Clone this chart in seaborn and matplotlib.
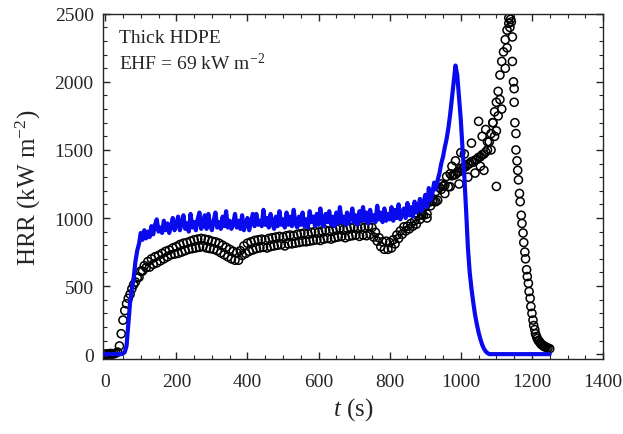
import numpy as np
import pandas as pd
import matplotlib
matplotlib.use("Agg")
import matplotlib.pyplot as plt
from matplotlib.ticker import MultipleLocator
import seaborn as sns

# HRR medido (circulos), amostrado a cada 5 s
t_exp = np.arange(0, 1255, 5)
hrr_exp = [
    0, 2, 0, 5, 0, 3, 8, 15,
    60, 150, 250, 320, 370, 410, 440, 480,
    510, 530, 560, 565, 610, 610, 650, 635,
    680, 640, 700, 660, 715, 670, 725, 685,
    740, 700, 755, 715, 765, 730, 780, 735,
    790, 740, 805, 750, 815, 760, 820, 770,
    830, 775, 840, 780, 845, 785, 850, 790,
    845, 780, 840, 775, 830, 770, 825, 760,
    815, 745, 800, 730, 785, 715, 770, 700,
    755, 690, 745, 690, 760, 725, 795, 740,
    815, 755, 825, 765, 835, 775, 840, 780,
    845, 785, 840, 780, 850, 790, 855, 795,
    860, 800, 865, 805, 860, 795, 870, 810,
    875, 810, 870, 815, 880, 820, 885, 825,
    890, 825, 885, 830, 895, 835, 900, 840,
    895, 835, 905, 845, 910, 850, 905, 845,
    915, 855, 920, 860, 925, 865, 915, 855,
    925, 865, 930, 870, 935, 875, 925, 865,
    935, 875, 930, 870, 940, 880, 930, 860,
    895, 830, 855, 790, 825, 770, 830, 770,
    820, 780, 840, 810, 875, 850, 905, 880,
    935, 905, 940, 920, 960, 940, 980, 955,
    1015, 990, 1025, 1020, 1085, 1030, 1115, 1090,
    1125, 1120, 1195, 1130, 1225, 1210, 1235, 1240,
    1305, 1230, 1325, 1310, 1315, 1320, 1335, 1340,
    1365, 1360, 1375, 1380, 1395, 1400, 1415, 1410,
    1425, 1430, 1445, 1450, 1465, 1470, 1485, 1500,
    1560, 1620, 1700, 1780, 1850, 1930, 2050, 2150,
    2220, 2310, 2380, 2430, 2460, 2330, 1950, 1620,
    1350, 1180, 1020, 890, 750, 620, 520, 410,
    300, 210, 150, 115, 95, 75, 65, 55,
    50, 45, 40,
]

# pontos extras (dispersao perto do pico)
t_extra = [890, 905, 915, 930, 945, 955, 970, 975, 985, 995, 1000, 1010,
           1020, 1030, 1040, 1050, 1055, 1060, 1065, 1070, 1075, 1085, 1090,
           1095, 1100, 1100, 1105, 1110, 1115, 1125, 1130, 1135, 1138, 1142,
           1145, 1148, 1150, 1152, 1155, 1158, 1162, 1167, 1172, 1177, 1182,
           1187, 1192, 1197, 1203, 1208, 1213, 1218, 1223, 1228, 1233, 1238]
hrr_extra = [1050, 1000, 1150, 1120, 1250, 1180, 1230, 1380, 1420, 1250, 1480, 1470,
             1300, 1550, 1330, 1710, 1380, 1600, 1350, 1650, 1560, 1500, 1700,
             1600, 1232, 1640, 1750, 1870, 1800, 2100, 2250, 2470, 2400, 2440,
             2150, 2000, 1850, 1700, 1500, 1420, 1280, 1120, 960, 820, 700,
             570, 460, 350, 250, 180, 130, 100, 85, 70, 60, 55]

# HRR do modelo (linha azul), a cada 5 s
t_mod = np.arange(0, 1255, 5)
hrr_mod = [
    0, 0, 0, 0, 0, 0, 0, 0,
    0, 0, 5, 15, 60, 220, 380, 470,
    560, 680, 760, 810, 890, 840, 910, 850,
    900, 860, 940, 880, 950, 990, 900, 930,
    890, 980, 910, 960, 890, 940, 1000, 910,
    950, 1010, 910, 960, 1020, 920, 960, 900,
    1030, 930, 970, 910, 990, 1040, 920, 960,
    1020, 920, 1030, 950, 910, 980, 1040, 930,
    970, 920, 1010, 940, 1050, 930, 980, 920,
    960, 1030, 930, 980, 920, 1020, 910, 960,
    1000, 910, 970, 1030, 940, 1030, 950, 980,
    940, 1060, 950, 1000, 930, 1030, 960, 920,
    1010, 940, 1050, 950, 990, 930, 1040, 950,
    1010, 940, 1060, 960, 930, 1010, 950, 1040,
    940, 990, 930, 1050, 970, 1010, 940, 1030,
    950, 1070, 960, 940, 1030, 970, 1050, 950,
    1010, 940, 1040, 960, 1080, 970, 1010, 950,
    1040, 960, 1000, 1070, 970, 1020, 950, 1050,
    980, 1080, 980, 1040, 960, 1060, 980, 1020,
    970, 1090, 990, 1040, 970, 1070, 980, 1030,
    990, 1080, 980, 1060, 1000, 1100, 990, 1040,
    1070, 1000, 1110, 1020, 1080, 1010, 1120, 1040,
    1070, 1140, 1050, 1110, 1170, 1080, 1220, 1130,
    1180, 1260, 1210, 1280, 1330, 1400, 1450, 1520,
    1580, 1660, 1760, 1880, 2000, 2120, 2050, 1880,
    1720, 1500, 1300, 1050, 780, 600, 480, 380,
    290, 220, 160, 110, 70, 40, 20, 8,
] + [0] * 35

df_exp = pd.DataFrame({"t": np.concatenate([t_exp, t_extra]),
                       "hrr": list(hrr_exp) + hrr_extra})
df_mod = pd.DataFrame({"t": t_mod, "hrr": hrr_mod})

sns.set_style("ticks")
plt.rcParams["font.family"] = ["Liberation Serif", "DejaVu Serif"]
plt.rcParams["mathtext.fontset"] = "custom"
plt.rcParams["mathtext.rm"] = "Liberation Serif"
plt.rcParams["mathtext.it"] = "Liberation Serif:italic"
plt.rcParams["mathtext.default"] = "regular"

fig = plt.figure(figsize=(6.23, 4.35), dpi=100)
ax = fig.add_axes([0.166, 0.172, 0.802, 0.794])

sns.scatterplot(data=df_exp, x="t", y="hrr", ax=ax, marker="o", s=34,
                facecolor="none", edgecolor="black", linewidth=1.1, zorder=2)
sns.lineplot(data=df_mod, x="t", y="hrr", ax=ax, color="#0a0aee",
             linewidth=3.0, zorder=3)

ax.set_xlim(-5, 1400)
ax.set_ylim(-37, 2500)
ax.xaxis.set_major_locator(MultipleLocator(200))
ax.xaxis.set_minor_locator(MultipleLocator(50))
ax.yaxis.set_major_locator(MultipleLocator(500))
ax.yaxis.set_minor_locator(MultipleLocator(100))
ax.tick_params(which="both", direction="in", top=True, right=True, labelsize=14)
ax.tick_params(which="major", length=5, width=1)
ax.tick_params(which="minor", length=3, width=0.8)
ax.tick_params(axis="x", pad=10)
ax.tick_params(axis="y", pad=7)
for s in ax.spines.values():
    s.set_linewidth(1)

ax.set_xlabel(r"$\mathit{t}$ (s)", fontsize=18, labelpad=4)
ax.set_ylabel(r"HRR (kW m$^{-2}$)", fontsize=18, labelpad=8)

ax.text(0.032, 0.93, "Thick HDPE", transform=ax.transAxes, fontsize=14,
        va="center", ha="left")
ax.text(0.032, 0.858, r"EHF = 69 kW m$^{-2}$", transform=ax.transAxes,
        fontsize=14, va="center", ha="left")

fig.savefig("out.png", dpi=100)
